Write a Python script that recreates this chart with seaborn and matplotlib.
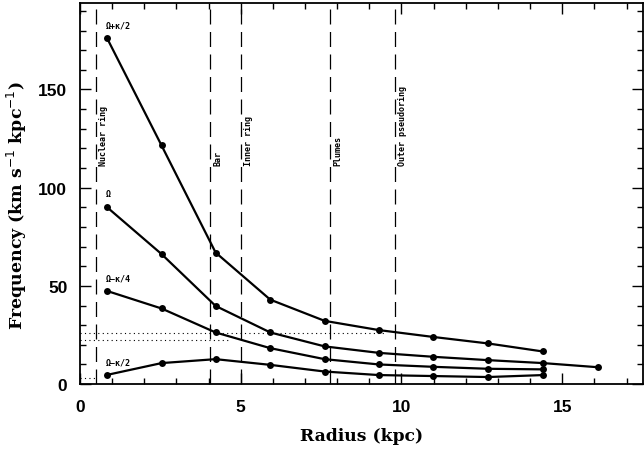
import numpy as np
import pandas as pd
import matplotlib
matplotlib.use("Agg")
import matplotlib.pyplot as plt
import seaborn as sns
from matplotlib.ticker import MultipleLocator

# ---- data ----
radius = [0.85, 2.54, 4.22, 5.92, 7.61, 9.30, 10.99, 12.69, 14.40, 16.10]
omega_plus_k2 = [176.0, 121.5, 67.0, 43.0, 32.2, 27.5, 24.0, 20.7, 16.6]
omega = [90.0, 66.2, 39.8, 26.3, 19.2, 15.9, 13.9, 12.2, 10.7, 8.6]
omega_minus_k4 = [47.4, 38.5, 26.3, 18.3, 12.7, 10.0, 8.8, 7.8, 7.5]
omega_minus_k2 = [4.7, 10.7, 12.7, 9.8, 6.4, 4.6, 4.1, 3.6, 4.6]
series_names = ["\u03a9+\u03ba/2", "\u03a9", "\u03a9\u2212\u03ba/4", "\u03a9\u2212\u03ba/2"]

feature_names = ["Nuclear ring", "Bar", "Inner ring", "Plumes", "Outer pseudoring"]
feature_radius = [0.5, 4.06, 5.0, 7.78, 9.8]

# dotted pattern-speed lines: (level, x_end)
dotted_levels = [25.8, 22.5, 3.0]
dotted_ends = [9.5, 4.7, 0.5]

series_vals = [omega_plus_k2, omega, omega_minus_k4, omega_minus_k2]
rows = []
for name, vals in zip(series_names, series_vals):
    for r, v in zip(radius, vals):
        rows.append({"Radius": r, "Frequency": v, "series": name})
df = pd.DataFrame(rows)

sns.set_theme(style="white")
plt.rcParams["font.family"] = ["DejaVu Sans"]
plt.rcParams["text.color"] = "black"
plt.rcParams["axes.labelcolor"] = "black"
plt.rcParams["xtick.color"] = "black"
plt.rcParams["ytick.color"] = "black"

fig = plt.figure(figsize=(6.44, 4.52), dpi=100)
ax = fig.add_axes([0.124, 0.148, 0.874, 0.843])

sns.lineplot(data=df, x="Radius", y="Frequency", units="series", estimator=None,
             color="black", marker="o", markersize=5, markeredgewidth=0,
             linewidth=1.6, ax=ax, legend=False, sort=False)

for xv in feature_radius:
    ax.axvline(xv, color="black", lw=0.9, ls=(0, (12, 6)), zorder=1)

for lvl, xe in zip(dotted_levels, dotted_ends):
    ax.plot([0, xe], [lvl, lvl], color="black", lw=0.8, ls=(0, (1, 3)), zorder=1)

ax.set_xlim(0, 17.5)
ax.set_ylim(0, 194)

# series labels
lab_font = dict(family="DejaVu Sans Mono", fontweight="bold", fontsize=6, color="black")
for name, vals in zip(series_names, series_vals):
    ax.text(radius[0] - 0.05, vals[0] + 4.5, name, ha="left", va="bottom", **lab_font)

# feature labels (vertical)
for name, xv in zip(feature_names, feature_radius):
    ax.text(xv + 0.1, 111.5, name, rotation=90, ha="left", va="bottom", **lab_font)

ax.xaxis.set_major_locator(MultipleLocator(5))
ax.xaxis.set_minor_locator(MultipleLocator(1))
ax.yaxis.set_major_locator(MultipleLocator(50))
ax.yaxis.set_minor_locator(MultipleLocator(10))
ax.tick_params(which="both", direction="in", top=True, right=True, bottom=True, left=True,
               color="black", width=1, labelcolor="black")
ax.tick_params(which="major", length=8, labelsize=12.5)
ax.tick_params(axis="y", which="major", pad=9)
ax.tick_params(axis="x", which="major", pad=11)
ax.tick_params(which="minor", length=4)
for lbl in ax.get_xticklabels() + ax.get_yticklabels():
    lbl.set_fontweight("bold")
    lbl.set_fontfamily("Liberation Sans")

for sp in ax.spines.values():
    sp.set_color("black")
    sp.set_linewidth(1.3)

ax.set_xlabel("Radius (kpc)", family="DejaVu Serif", fontweight="bold", fontsize=12.3,
              labelpad=9, color="black")
ax.set_ylabel("Frequency (km s$^{-1}$ kpc$^{-1}$)", family="DejaVu Serif", fontweight="bold",
              fontsize=12.5, color="black")
ax.yaxis.set_label_coords(-0.09, 0.47)

fig.savefig("out.png", dpi=100)
